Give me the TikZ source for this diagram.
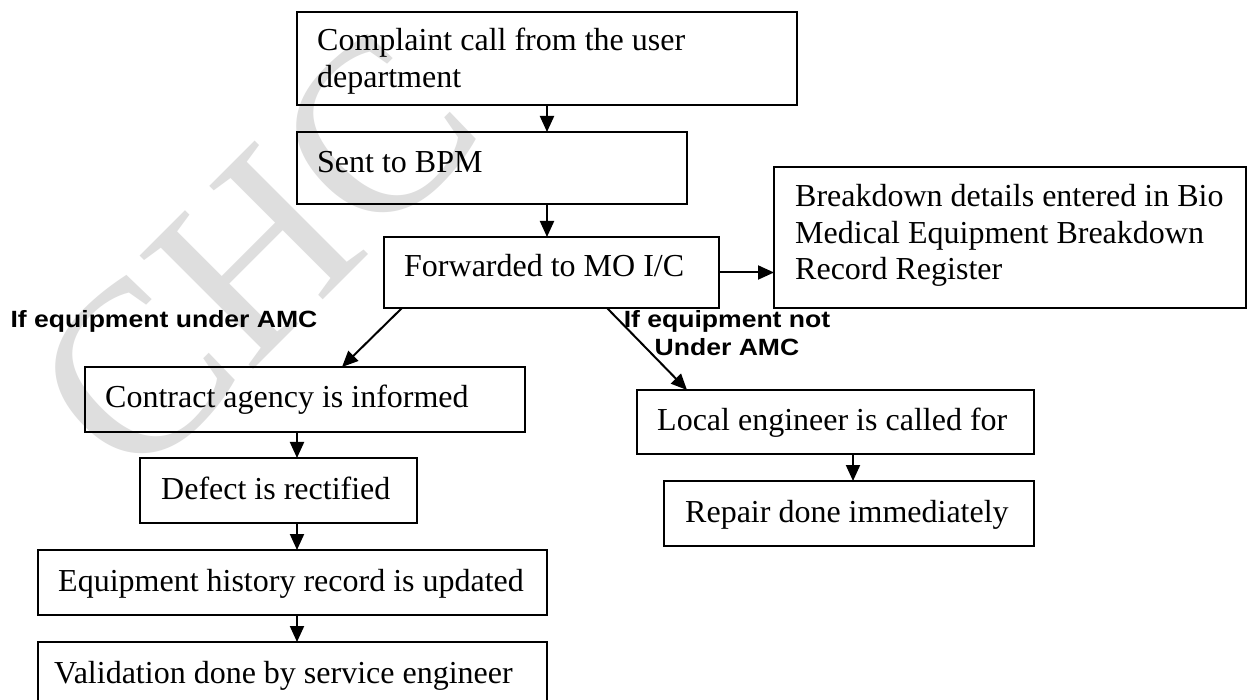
\documentclass[tikz,border=0pt]{standalone}
\usepackage{fontspec}
\setmainfont{Liberation Serif}
\newfontfamily\labfont[FakeStretch=1.13]{Liberation Sans Bold}
\usetikzlibrary{arrows.meta,calc}
\begin{document}
\begin{tikzpicture}[x=1pt,y=-1pt,
  box/.style={draw,line width=2pt,anchor=north west,inner sep=0pt,outer sep=0pt},
  txt/.style={anchor=base west,inner sep=0pt,font=\fontsize{32}{36.5}\selectfont,align=left},
  lab/.style={inner sep=0pt,font=\labfont\fontsize{23.5}{28}\selectfont,align=center},
  arr/.style={line width=2pt,-{Triangle[length=16pt,width=14pt]}},
  wmark/.style={rotate=45,text=black!13,inner sep=0pt,font=\fontsize{245}{245}\selectfont}]
\useasboundingbox (0,0) rectangle (1248,700);
\clip (0,0) rectangle (1248,700);
\fill[white] (0,0) rectangle (1248,700);
% watermark
\node[wmark] (wm) at (255,255) {CHC};
% boxes
\node[box,minimum width=500pt,minimum height=93pt] (b1) at (297,12) {};
\node[box,minimum width=390pt,minimum height=72pt] (b2) at (297,132) {};
\node[box,minimum width=335pt,minimum height=71pt] (b3) at (384,237) {};
\node[box,minimum width=472pt,minimum height=141pt] (b4) at (774,167) {};
\node[box,minimum width=440pt,minimum height=65pt] (b5) at (85,367) {};
\node[box,minimum width=277pt,minimum height=65pt] (b6) at (140,458) {};
\node[box,minimum width=509pt,minimum height=65pt] (b7) at (38,550) {};
\node[box,minimum width=509pt,minimum height=65pt] (b8) at (38,642) {};
\node[box,minimum width=397pt,minimum height=64pt] (b9) at (637,390) {};
\node[box,minimum width=370pt,minimum height=65pt] (b10) at (664,481) {};
% texts (base anchor of a multi-line text is its last line)
\node[txt] (t1) at ($(b1.north west)+(20,75.5)$) {Complaint call from the user\\department};
\node[txt] (t2) at ($(b2.north west)+(20,41)$) {Sent to BPM};
\node[txt] (t3) at ($(b3.north west)+(20,40)$) {Forwarded to MO I/C};
\node[txt] (t4) at ($(b4.north west)+(21,113)$) {Breakdown details entered in Bio\\Medical Equipment Breakdown\\Record Register};
\node[txt] (t5) at ($(b5.north west)+(20,41)$) {Contract agency is informed};
\node[txt] (t6) at ($(b6.north west)+(21,41)$) {Defect is rectified};
\node[txt] (t7) at ($(b7.north west)+(20,41)$) {Equipment history record is updated};
\node[txt] (t8) at ($(b8.north west)+(16,41)$) {Validation done by service engineer};
\node[txt] (t9) at ($(b9.north west)+(20,41)$) {Local engineer is called for};
\node[txt] (t10) at ($(b10.north west)+(21,41)$) {Repair done immediately};
% connectors
\draw[arr] (b1.south) -- (b1.south |- b2.north);
\draw[arr] (b1.south |- b2.south) -- (b1.south |- b3.north);
\draw[arr] (b3.east) -- (b3.east -| b4.west);
\coordinate (a1) at ($(b3.south west)+(18,0)$);
\coordinate (a2) at ($(b5.north west)+(257,0)$);
\draw[arr] (a1) -- (a2);
\coordinate (c1) at ($(b3.south west)+(223,0)$);
\coordinate (c2) at ($(b9.north west)+(50,0)$);
\draw[arr] (c1) -- (c2);
\coordinate (v5) at ($(b5.south west)+(212,0)$);
\draw[arr] (v5) -- (v5 |- b6.north);
\draw[arr] (v5 |- b6.south) -- (v5 |- b7.north);
\draw[arr] (v5 |- b7.south) -- (v5 |- b8.north);
\coordinate (v9) at ($(b9.south west)+(216,0)$);
\draw[arr] (v9) -- (v9 |- b10.north);
% labels
\node[lab,anchor=base] (l1) at (164,328) {If equipment under AMC};
\node[lab,anchor=base] (l2) at (727,356) {If equipment not\\Under AMC};
\end{tikzpicture}
\end{document}
